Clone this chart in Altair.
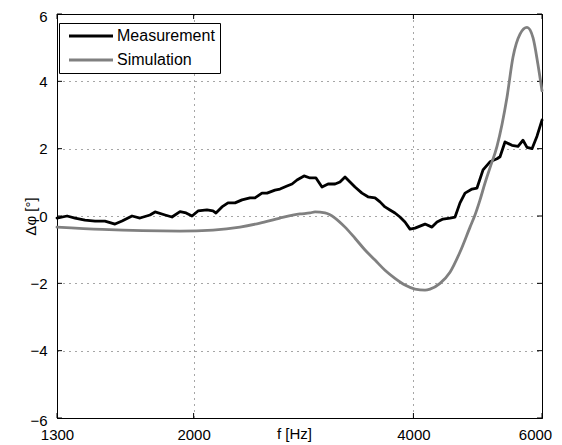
import altair as alt
import pandas as pd

meas_f = [1300, 1342, 1376, 1420, 1466, 1512, 1561, 1596, 1647, 1689, 1743, 1771, 1828, 1868,
          1916, 1953, 1990, 2028, 2086, 2126, 2146, 2187, 2229, 2279, 2330, 2389, 2427, 2481,
          2521, 2585, 2626, 2685, 2728, 2771, 2833, 2887, 2942, 2998, 3056, 3124, 3173, 3224,
          3275, 3327, 3401, 3466, 3544, 3600, 3657, 3715, 3774, 3834, 3895, 3957, 4020, 4084,
          4149, 4241, 4309, 4391, 4489, 4561, 4633, 4707, 4812, 4888, 4982, 5092, 5206, 5256,
          5339, 5458, 5563, 5651, 5723, 5814, 5906, 6000]
meas_v = [-0.06, 0.0, -0.06, -0.12, -0.15, -0.15, -0.24, -0.15, 0.0, -0.06, 0.03, 0.12, 0.03, -0.03,
          0.13, 0.09, 0.0, 0.15, 0.18, 0.15, 0.09, 0.27, 0.39, 0.39, 0.48, 0.54, 0.54, 0.68,
          0.68, 0.77, 0.80, 0.89, 0.95, 1.07, 1.19, 1.13, 1.13, 0.86, 0.95, 0.95, 1.01, 1.16,
          1.01, 0.86, 0.68, 0.57, 0.54, 0.42, 0.27, 0.18, 0.09, -0.03, -0.18, -0.39, -0.36, -0.30,
          -0.24, -0.33, -0.18, -0.09, -0.06, -0.03, 0.39, 0.68, 0.80, 0.83, 1.37, 1.61, 1.70, 1.76,
          2.20, 2.10, 2.07, 2.25, 2.04, 2.00, 2.37, 2.85]

sim_f = [1300, 1500, 1916, 2126, 2315, 2466, 2626, 2797, 2887, 2933, 3027, 3124, 3224, 3327,
         3434, 3544, 3657, 3774, 3895, 4020, 4149, 4215, 4350, 4489, 4633, 4782, 4857, 4935,
         5013, 5092, 5206, 5373, 5476, 5598, 5723, 5832, 5924, 6000]
sim_v = [-0.33, -0.40, -0.45, -0.42, -0.33, -0.21, -0.06, 0.06, 0.09, 0.12, 0.09, -0.06, -0.33, -0.66,
         -1.01, -1.31, -1.61, -1.85, -2.05, -2.17, -2.20, -2.17, -2.00, -1.67, -1.07, -0.33, 0.03, 0.48,
         0.98, 1.43, 2.07, 3.53, 4.72, 5.40, 5.60, 5.30, 4.50, 3.72]

x_ticks = [1300, 2000, 4000, 6000]
y_ticks = [-6, -4, -2, 0, 2, 4, 6]
series_names = ["Measurement", "Simulation"]
series_colors = ["#000000", "#808080"]

meas = pd.DataFrame({"f": meas_f, "v": meas_v, "s": "Measurement"})
sim = pd.DataFrame({"f": sim_f, "v": sim_v, "s": "Simulation"})

W, H = 485, 404
FONT = "Liberation Sans"

xscale = alt.Scale(type="log", domain=[1300, 6000], nice=False)
yscale = alt.Scale(domain=[-6, 6], nice=False, zero=False)
xaxis = alt.Axis(values=x_ticks, format="d", title="f [Hz]", tickSize=0,
                 labelPadding=9, labelFlush=False,
                 labelOffset={"condition": {"test": "datum.value >= 6000", "value": -7},
                              "value": 0},
                 titleX=237, titleY=20, titleBaseline="alphabetic")
yaxis = alt.Axis(values=y_ticks, format="d", title="Δφ [°]", tickSize=0,
                 labelPadding=10, labelFlush=False,
                 labelOffset={"condition": {"test": "abs(datum.value) >= 6", "value": 2},
                              "value": 0},
                 titleX=-27, titleBaseline="middle")
X = alt.X("f:Q", scale=xscale, axis=xaxis)
Y = alt.Y("v:Q", scale=yscale, axis=yaxis)
color = alt.Color("s:N", scale=alt.Scale(domain=series_names, range=series_colors),
                  legend=alt.Legend(title=None, orient="none", legendX=2, legendY=9,
                                    fillColor="white", strokeColor="black", padding=5,
                                    symbolType="M-4,0H4", symbolSize=121,
                                    symbolStrokeWidth=3, symbolOffset=19, labelOffset=18,
                                    labelFontSize=16, labelFont=FONT, rowPadding=8))

line_kw = dict(strokeWidth=2.8, strokeCap="round", strokeJoin="round")
l_meas = alt.Chart(meas).mark_line(**line_kw).encode(x=X, y=Y, color=color)
l_sim = alt.Chart(sim).mark_line(interpolate="monotone", **line_kw).encode(x=X, y=Y, color=color)

xt = pd.DataFrame({"f": x_ticks})
yt = pd.DataFrame({"v": y_ticks})
tk = dict(color="black", strokeWidth=1)
xtick_b = alt.Chart(xt).mark_rule(**tk).encode(x=X, y=alt.value(H), y2=alt.value(H - 5))
xtick_t = alt.Chart(xt).mark_rule(**tk).encode(x=X, y=alt.value(0), y2=alt.value(5))
ytick_l = alt.Chart(yt).mark_rule(**tk).encode(y=Y, x=alt.value(0), x2=alt.value(5))
ytick_r = alt.Chart(yt).mark_rule(**tk).encode(y=Y, x=alt.value(W), x2=alt.value(W - 5))

chart = alt.layer(xtick_b, xtick_t, ytick_l, ytick_r, l_meas, l_sim).properties(
    width=W, height=H, autosize=alt.AutoSizeParams(type="none"),
    padding={"left": 49, "top": 6, "right": 12, "bottom": 27},
).configure_view(stroke="black", strokeWidth=1).configure_axis(
    domainColor="black", domainWidth=1, labelFont=FONT, titleFont=FONT,
    labelFontSize=15, titleFontSize=15, labelColor="black", titleColor="black",
    titleFontWeight="normal", grid=True, gridColor="#000000", gridDash=[1, 5],
    gridOpacity=0.7, gridWidth=1,
)

chart.save("out.html", embed_options={"renderer": "svg", "actions": False})
